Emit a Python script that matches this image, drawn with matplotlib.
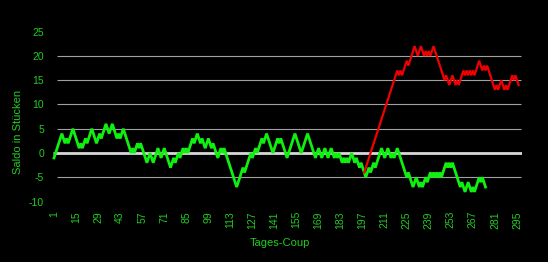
import matplotlib
matplotlib.use("Agg")
import matplotlib.pyplot as plt

# ---- data ----
green_start = 1
green_values = [
    -1, 0, 1, 2, 3, 4, 3, 2, 3, 2,
    3, 4, 5, 4, 3, 2, 1, 2, 1, 2,
    3, 2, 3, 4, 5, 4, 3, 2, 3, 4,
    3, 4, 5, 6, 5, 4, 5, 6, 5, 4,
    3, 4, 3, 4, 5, 4, 3, 2, 1, 0,
    1, 0, 1, 2, 1, 2, 1, 0, -1, -2,
    -1, 0, -1, -2, -1, 0, 1, 0, -1, 0,
    1, 0, -1, -2, -3, -2, -1, -2, -1, 0,
    -1, 0, 1, 0, 1, 0, 1, 2, 3, 2,
    3, 4, 3, 2, 3, 2, 1, 2, 3, 2,
    1, 2, 1, 0, -1, 0, 1, 0, 1, 0,
    -1, -2, -3, -4, -5, -6, -7, -6, -5, -4,
    -3, -4, -3, -2, -1, 0, -1, 0, 1, 0,
    1, 2, 3, 2, 3, 4, 3, 2, 1, 0,
    1, 2, 3, 2, 3, 2, 1, 0, -1, 0,
    1, 2, 3, 4, 3, 2, 1, 0, 1, 2,
    3, 4, 3, 2, 1, 0, -1, 0, 1, 0,
    -1, 0, 1, 0, -1, 0, 1, 0, -1, 0,
    -1, 0, -1, -2, -1, -2, -1, -2, -1, 0,
    -1, -2, -1, -2, -3, -2, -3, -4, -5, -4,
    -3, -4, -3, -2, -3, -2, -1, 0, 1, 0,
    -1, 0, 1, 0, -1, 0, -1, 0, 1, 0,
    -1, -2, -3, -4, -5, -4, -5, -6, -7, -6,
    -5, -6, -7, -6, -7, -6, -5, -6, -5, -4,
    -5, -4, -5, -4, -5, -4, -5, -4, -3, -2,
    -3, -2, -3, -2, -3, -4, -5, -6, -7, -6,
    -7, -8, -7, -6, -7, -8, -7, -8, -7, -6,
    -5, -6, -5, -6, -7,
]

red_start = 198
red_values = [
    -4, -3, -2, -1, 0, 1, 2, 3, 4, 5,
    6, 7, 8, 9, 10, 11, 12, 13, 14, 15,
    16, 17, 16, 17, 16, 17, 18, 19, 18, 19,
    20, 21, 22, 21, 20, 21, 22, 21, 20, 21,
    20, 21, 20, 21, 22, 21, 20, 19, 18, 17,
    16, 15, 16, 15, 14, 15, 16, 15, 14, 15,
    14, 15, 16, 17, 16, 17, 16, 17, 16, 17,
    16, 17, 18, 19, 18, 17, 18, 17, 18, 17,
    16, 15, 14, 13, 14, 13, 14, 15, 14, 13,
    14, 13, 14, 15, 16, 15, 16, 15, 14,
]

x_tick_labels = [1, 15, 29, 43, 57, 71, 85, 99, 113, 127, 141,
                 155, 169, 183, 197, 211, 225, 239, 253, 267, 281, 295]
y_ticks = [-10, -5, 0, 5, 10, 15, 20, 25]
grid_levels = [-5, 5, 10, 15, 20]

x_label = "Tages-Coup"
y_label = "Saldo in Stücken"

# ---- styling ----
plt.rcParams['font.family'] = ['Liberation Sans', 'DejaVu Sans']
TXT = '#22cc22'

W, H = 548, 262
fig = plt.figure(figsize=(W / 100, H / 100), dpi=100, facecolor='black')
L, R, T, B = 52, 522, 31.6, 201.6
ax = fig.add_axes([L / W, (H - B) / H, (R - L) / W, (B - T) / H])
ax.set_facecolor('black')

ax.set_xlim(-0.27, 298.18)
ax.set_ylim(-10, 25)

ax.hlines(grid_levels, 2.9, 297.5, colors='#a0a0a0', linewidth=0.8, zorder=1)
ax.hlines([0], 0.4, 298.0, colors='#d8d8d8', linewidth=2.0, zorder=1)

gx = list(range(green_start, green_start + len(green_values)))
rx = list(range(red_start, red_start + len(red_values)))
ax.plot(gx, green_values, color='#10f010', linewidth=2.0, zorder=3,
        solid_joinstyle='miter')
ax.plot(rx, red_values, color='#f00000', linewidth=1.6, zorder=4,
        solid_joinstyle='miter')

ax.set_xticks(x_tick_labels)
ax.set_xticklabels([str(v) for v in x_tick_labels], rotation=90)
ax.set_yticks(y_ticks)
ax.set_yticklabels([str(v) for v in y_ticks])
ax.tick_params(axis='x', length=0, pad=6.8, labelsize=7.5, colors=TXT)
ax.tick_params(axis='y', length=0, pad=5.8, labelsize=7.5, colors=TXT)
for s in ax.spines.values():
    s.set_visible(False)

fig.text(280 / W, 1 - 243 / H, x_label, color=TXT, fontsize=8,
         ha='center', va='center')
fig.text(18 / W, 1 - 132 / H, y_label, color=TXT, fontsize=8,
         ha='center', va='center', rotation=90)

fig.savefig('out.png', dpi=100, facecolor='black')
